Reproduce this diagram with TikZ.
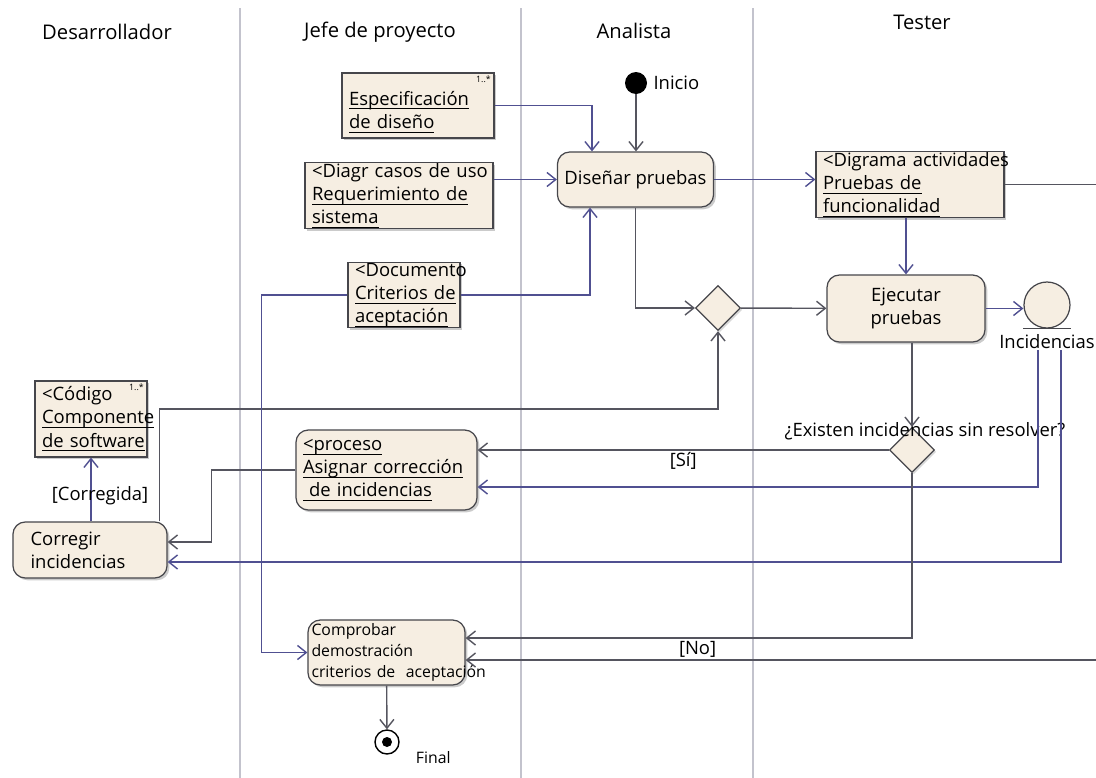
\documentclass[tikz,border=0pt]{standalone}
\usepackage{fontspec}
\setmainfont{Open Sans}
\usetikzlibrary{arrows.meta,shapes.geometric,shadows}

\definecolor{crema}{RGB}{246,238,226}
\definecolor{borde}{RGB}{70,70,75}
\definecolor{azul}{RGB}{80,80,145}
\definecolor{gris}{RGB}{85,85,95}
\definecolor{lanegris}{RGB}{195,195,205}
\newsavebox{\cajasub}
\newcommand{\subraya}[1]{\sbox{\cajasub}{#1}\leavevmode\rlap{\rule[-2.4pt]{\wd\cajasub}{0.5pt}}\usebox{\cajasub}}

\begin{document}
\begin{tikzpicture}[x=0.02cm,y=-0.02cm,
    every node/.style={font=\fontsize{10.5}{13.2}\selectfont},
    carril/.style={draw=lanegris,line width=0.6pt},
    cabecera/.style={font=\fontsize{11.5}{14}\selectfont},
    objeto/.style={rectangle,draw=borde,fill=crema,line width=0.7pt,align=left,
      inner xsep=4pt,inner ysep=0.5pt,
      drop shadow={shadow xshift=1.3pt,shadow yshift=-1.3pt,fill=black!40}},
    accion/.style={objeto,rounded corners=7pt},
    decision/.style={diamond,draw=borde,fill=crema,line width=0.7pt,minimum size=0.9cm,inner sep=0pt,
      drop shadow={shadow xshift=1pt,shadow yshift=-1pt,fill=black!30}},
    flujo/.style={draw=azul,line width=0.8pt,-{Straight Barb[length=5pt,width=8pt]}},
    flujog/.style={flujo,draw=gris},
    guarda/.style={inner sep=1pt},
    mult/.style={font=\fontsize{5}{6}\selectfont,inner sep=2pt}]

  \path[use as bounding box,fill=white] (0,0) rectangle (1096,778);

  % carriles
  \foreach \x in {240,521,753}
    \draw[carril] (\x,8) -- (\x,778);
  \foreach \x/\y/\nom/\t in {107/32/desa/Desarrollador,380/32/jefe/Jefe de proyecto,634/31/anal/Analista,922/22/test/Tester}
    \node[cabecera] (\nom) at (\x,\y) {\t};

  % objetos y acciones
  \node[objeto,text width=2.76cm,minimum height=1.3cm,text depth=0.3cm,label={[mult,anchor=north east]north east:1..*}] (espec) at (418,105.5) {\subraya{Especificación}\\\subraya{de diseño}};
  \node[objeto,text width=3.48cm,minimum height=1.3cm] (diagr) at (399,195.5) {\mbox{<Diagr casos de uso}\\\subraya{Requerimiento de}\\\subraya{sistema}};
  \node[objeto,text width=1.96cm,minimum height=1.28cm] (doc) at (404,295) {\mbox{<Documento}\\\subraya{Criterios de}\\\subraya{aceptación}};
  \node[circle,fill=black,minimum size=0.44cm,inner sep=0pt,label={right:Inicio}] (inicio) at (636,83) {};
  \node[accion,align=center,minimum width=3.1cm,minimum height=1.1cm] (disenar) at (635.5,179.5) {Diseñar pruebas};
  \node[objeto,text width=3.48cm,minimum height=1.3cm] (digrama) at (910,184.5) {\mbox{<Digrama actividades}\\\subraya{Pruebas de}\\\subraya{funcionalidad}};
  \node[decision] (dec1) at (718,308) {};
  \node[accion,align=center,minimum width=3.16cm,minimum height=1.34cm] (ejecutar) at (906,308.5) {Ejecutar\\pruebas};
  \node[circle,draw=borde,fill=crema,line width=0.7pt,minimum size=0.92cm,
    label={[name=incidlbl]below:Incidencias}] (incid) at (1047,305) {};
  \draw[borde,line width=0.7pt] ([xshift=-0.48cm]incid.south) -- ([xshift=0.48cm]incid.south);
  \node[decision,label={[anchor=center,xshift=0.26cm,yshift=-0.08cm]north:¿Existen incidencias sin resolver?}] (dec2) at (912,450) {};
  \node[accion,text width=3.34cm,minimum height=1.6cm] (asignar) at (386.5,470) {\subraya{<proceso}\\\subraya{Asignar corrección}\\\subraya{ de incidencias}};
  \node[accion,inner xsep=10pt,text width=2.38cm,minimum height=1.12cm] (corregir) at (90,550) {Corregir\\incidencias};
  \node[objeto,text width=1.96cm,minimum height=1.52cm,label={[mult,anchor=north east]north east:1..*}] (codigo) at (91,419) {<Código\\\subraya{Componente}\\\subraya{de software}};
  \node[accion,inner xsep=2pt,text width=3.0cm,minimum height=1.3cm,font=\fontsize{9}{12}\selectfont] (comprobar) at (386.5,652.5) {Comprobar\\demostración\\\rlap{criterios de\ \ aceptación}};
  \node[circle,draw=black,line width=0.8pt,minimum size=0.48cm,inner sep=0pt,
    path picture={\fill[black] (path picture bounding box.center) circle (0.1cm);},
    label={[anchor=west,xshift=0.2cm,yshift=-0.32cm,font=\fontsize{9}{11}\selectfont]east:Final}] (final) at (387,742) {};

  \coordinate (retorno) at (718,409);
  \coordinate (margen) at (1110,660);

  % flujos
  \foreach \from/\to in {dec1/ejecutar,comprobar/final}
    \draw[flujog] (\from) -- (\to);
  \draw[flujo] (espec.east) -| ([xshift=-0.87cm]disenar.north);
  \draw[flujog] (inicio) -- (inicio |- disenar.north);
  \draw[flujo] (diagr.east |- disenar.west) -- (disenar.west);
  \draw[flujo] (doc.east) -| ([xshift=-0.91cm]disenar.south);
  \draw[flujo] (disenar.east) -- (disenar.east -| digrama.west);
  \draw[flujo] (digrama.south -| ejecutar.north) -- (ejecutar.north);
  \draw[flujog] (disenar.south) |- (dec1.west);
  \draw[flujo] (ejecutar.east) -- (ejecutar.east -| incid.west);
  \draw[flujog] (ejecutar.south -| dec2.north) -- (dec2.north);
  \draw[flujog] (dec2.west) -- node[guarda,below,pos=0.5] {[Sí]} (dec2.west -| asignar.east);
  \draw[flujo] ([xshift=-0.18cm,yshift=-0.16cm]incidlbl.center) |- ([yshift=-0.34cm]asignar.east);
  \draw[flujo] ([xshift=0.28cm,yshift=-0.16cm]incidlbl.center) |- ([yshift=-0.24cm]corregir.east);
  \draw[flujog] (dec2.south) |- ([yshift=0.29cm]comprobar.east);
  \draw[flujog] (digrama.east) -| (margen) -- node[guarda,above,pos=0.64] {[No]} (margen -| comprobar.east);
  \draw[flujog] (asignar.west) -- ++(-1.68cm,0) |- ([yshift=0.16cm]corregir.east);
  \draw[flujo] (corregir.north -| codigo.south) -- node[pos=0.4,xshift=0.18cm] {[Corregida]} (codigo.south);
  \draw[flujog] ([xshift=-0.16cm]corregir.north east) |- (retorno) -- (dec1.south);
  \draw[flujo] (doc.west) -- ++(-1.72cm,0) |- (comprobar.west);
\end{tikzpicture}
\end{document}
